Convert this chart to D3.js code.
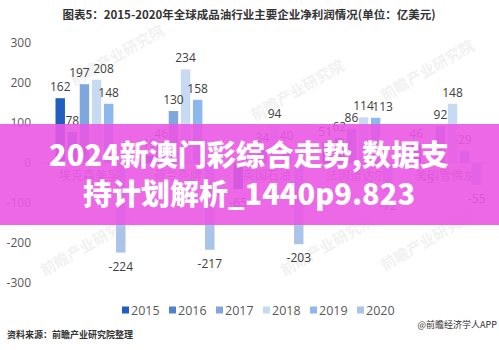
<!DOCTYPE html>
<html lang="zh">
<head>
<meta charset="UTF-8">
<title>2015-2020年全球成品油行业主要企业净利润情况</title>
<script src="https://d3js.org/d3.v7.min.js"></script>
<style>
  body { margin: 0; background: #fff; }
  svg { display: block; }
</style>
</head>
<body>
<script>
  const companies = ["埃克森美孚", "荷兰壳牌", "英国石油", "法国道达尔", "美国雪佛龙"];
  const years = ["2015", "2016", "2017", "2018", "2019", "2020"];
  // net profit, 亿美元, one array per company (2015..2020)
  const exxon = [162, 78, 197, 208, 148, -224];
  const shell = [19, 46, 130, 234, 158, -217];
  const bp = [-65, 1, 34, 94, 40, -203];
  const total = [51, 62, 86, 114, 113, -72];
  const chevron = [46, -5, 92, 148, 29, -55];
  const yTicks = [300, 200, 100, 0, -100, -200, -300];
  const colors = ["#1f5fbd", "#4f84c8", "#7ea7dd", "#c6daf2", "#8cb8ee", "#a9c4e6"];

  const series = [exxon, shell, bp, total, chevron];
  const data = [];
  companies.forEach((c, i) => {
    years.forEach((yr, j) => data.push({ company: c, year: yr, value: series[i][j] }));
  });

  // small horizontal nudges so crowded labels don't collide
  const nudge = { "埃克森美孚-2017": -5, "埃克森美孚-2018": 7, "法国道达尔-2019": 7, "法国道达尔-2015": -2 };

  const W = 499, H = 350;
  const svg = d3.select("body").append("svg").attr("width", W).attr("height", H);

  const y = d3.scaleLinear().domain([-300, 300]).range([283, 43]);
  const x0 = d3.scaleBand().domain(companies).range([45.5, 490.5]);
  const x1 = d3.scaleBand().domain(years).range([10, 80]).paddingInner(0.22);
  const color = d3.scaleOrdinal().domain(years).range(colors);

  // title
  svg.append("text")
    .attr("x", 249).attr("y", 19)
    .attr("text-anchor", "middle")
    .style("font", "bold 11.5px 'Noto Sans CJK SC', sans-serif")
    .attr("fill", "#333")
    .text("图表5：2015-2020年全球成品油行业主要企业净利润情况(单位：亿美元)");

  // faint watermarks
  [[120, 60], [300, 95], [430, 75], [90, 250], [330, 250], [430, 245]].forEach(p => {
    svg.append("text")
      .attr("transform", `translate(${p[0]},${p[1]}) rotate(-30)`)
      .attr("text-anchor", "middle")
      .style("font", "bold 15px 'Noto Sans CJK SC', sans-serif")
      .attr("fill", "#000").attr("opacity", 0.05)
      .text("前瞻产业研究院");
  });

  // y axis labels
  svg.append("g").selectAll("text")
    .data(yTicks)
    .join("text")
    .attr("x", 31).attr("y", d => y(d) + 4)
    .attr("text-anchor", "end")
    .style("font", "12px 'Open Sans', sans-serif")
    .attr("fill", "#595959")
    .text(d => d);

  // zero line
  svg.append("line")
    .attr("x1", 42).attr("x2", 490)
    .attr("y1", y(0)).attr("y2", y(0))
    .attr("stroke", "#d9d9d9");

  // category labels
  svg.append("g").selectAll("text")
    .data(companies)
    .join("text")
    .attr("x", d => x0(d) + x0.bandwidth() / 2 - 1)
    .attr("y", y(0) + 17)
    .attr("text-anchor", "middle")
    .style("font", "12px 'Noto Sans CJK SC', serif")
    .attr("fill", "#7f7f7f")
    .text(d => d);

  // bars
  const bx = d => x0(d.company) + x1(d.year);
  svg.append("g").selectAll("rect")
    .data(data)
    .join("rect")
    .attr("x", bx)
    .attr("width", x1.bandwidth())
    .attr("y", d => y(Math.max(0, d.value)))
    .attr("height", d => Math.abs(y(d.value) - y(0)))
    .attr("fill", d => color(d.year));

  // value labels
  svg.append("g").selectAll("text")
    .data(data)
    .join("text")
    .attr("x", d => bx(d) + x1.bandwidth() / 2 + (nudge[d.company + "-" + d.year] || 0))
    .attr("y", d => d.value >= 0 ? y(d.value) - 7 : y(d.value) + 18)
    .attr("text-anchor", "middle")
    .style("font", "12px 'Open Sans', sans-serif")
    .attr("fill", "#404040")
    .text(d => d.value);

  // legend
  const lg = svg.append("g").selectAll("g")
    .data(years)
    .join("g")
    .attr("transform", (d, i) => `translate(${122 + i * 47},310)`);
  lg.append("rect").attr("x", 0).attr("y", -3.5).attr("width", 7).attr("height", 7)
    .attr("fill", d => color(d));
  lg.append("text").attr("x", 9).attr("y", 4.5)
    .style("font", "12.5px 'Open Sans', sans-serif")
    .attr("fill", "#595959")
    .text(d => d);

  // footer
  svg.append("text").attr("x", 7).attr("y", 338)
    .style("font", "bold 9px 'Noto Sans CJK SC', sans-serif")
    .attr("fill", "#333")
    .text("资料来源：前瞻产业研究院整理");
  svg.append("text").attr("x", 497).attr("y", 328)
    .attr("text-anchor", "end")
    .style("font", "9px 'Noto Sans CJK SC', sans-serif")
    .attr("fill", "#333")
    .text("@前瞻经济学人APP");

  // overlay banner
  svg.append("rect")
    .attr("x", 0).attr("y", 124).attr("width", W).attr("height", 101)
    .attr("fill", "rgb(234,88,228)").attr("opacity", 0.9);
  const bannerLines = ["2024新澳门彩综合走势,数据支", "持计划解析_1440p9.823"];
  svg.append("g").selectAll("text")
    .data(bannerLines)
    .join("text")
    .attr("x", 249).attr("y", (d, i) => 166 + i * 39)
    .attr("text-anchor", "middle")
    .style("font", "900 29px 'Noto Sans CJK SC', sans-serif")
    .attr("fill", "#fff")
    .text(d => d);
</script>
</body>
</html>
